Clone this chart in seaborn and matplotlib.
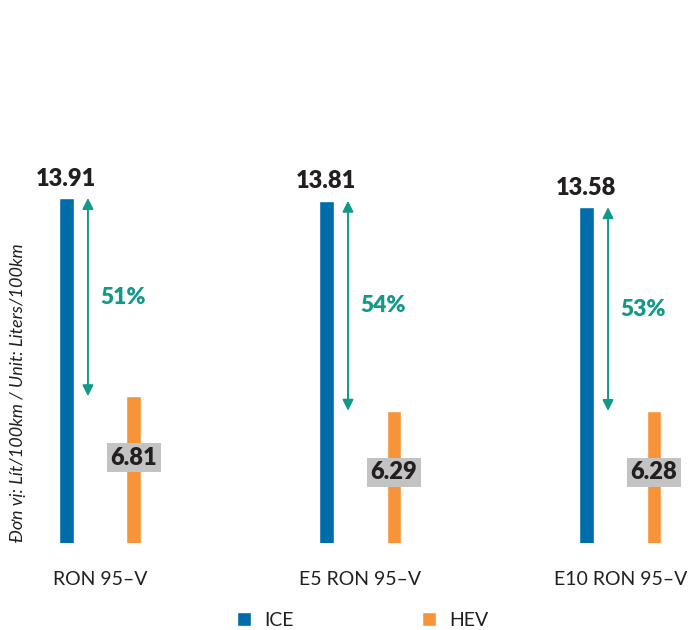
import pandas as pd
import matplotlib
matplotlib.use("Agg")
import matplotlib.pyplot as plt
import seaborn as sns
from matplotlib.patches import Patch

# --- DATA ---
FUELS = ["RON 95–V", "E5 RON 95–V", "E10 RON 95–V"]
ICE = [13.91, 13.81, 13.58]
HEV = [6.81, 6.29, 6.28]
SAVINGS = ["51%", "54%", "53%"]
Y_LABEL = "Đơn vị: Lít/100km / Unit: Liters/100km"

OUTPUT_FILE = "out.png"

color_ice = "#006dab"
color_hev = "#f7943a"
color_teal = "#119a89"
color_text = "#231f20"


def generate_graph():
    df = pd.DataFrame({
        "Fuel": FUELS * 2,
        "Type": ["ICE"] * 3 + ["HEV"] * 3,
        "Value": ICE + HEV,
    })

    sns.set_style("white")
    plt.rcParams["font.family"] = ["Lato", "DejaVu Sans"]

    fig = plt.figure(figsize=(6.93, 6.3), dpi=100)
    ax = fig.add_axes([0, 0.138, 1, 0.862])

    sns.barplot(data=df, x="Fuel", y="Value", hue="Type", order=FUELS,
                hue_order=["ICE", "HEV"], palette=[color_ice, color_hev],
                width=0.52, gap=0.78, ax=ax, legend=False, saturation=1)

    ax.set_xlim(-0.385, 2.28)
    ax.set_ylim(1.55, 21.0)
    sns.despine(ax=ax, left=True, bottom=True)
    ax.set_yticks([])
    ax.set_xlabel("")
    ax.set_ylabel("")
    ax.tick_params(axis="x", length=0, pad=20, labelsize=14, labelcolor=color_text)

    ice_bars = ax.containers[0]
    hev_bars = ax.containers[1]
    for i, (pi, ph) in enumerate(zip(ice_bars, hev_bars)):
        xi = pi.get_x() + pi.get_width() / 2
        xh = ph.get_x() + ph.get_width() / 2
        vi = pi.get_height()
        vh = ph.get_height()

        # ICE value on top
        ax.annotate(f"{ICE[i]:.2f}", xy=(xi, vi), xytext=(0, 6),
                    textcoords="offset points", ha="center", va="bottom",
                    fontsize=17, fontweight="heavy", color=color_text)

        # HEV value in a grey box
        ax.text(xh, vh - 2.2, f"{HEV[i]:.2f}", ha="center", va="center",
                fontsize=17, fontweight="heavy", color=color_text,
                bbox=dict(boxstyle="square,pad=0.15", facecolor="#c3c3c3",
                          edgecolor="none"))

        # saving arrow
        xa = xi + 0.32 * (xh - xi)
        ax.annotate("", xy=(xa, vh), xytext=(xa, vi),
                    arrowprops=dict(arrowstyle="<|-|>", color=color_teal,
                                    lw=1.4, mutation_scale=16,
                                    shrinkA=0, shrinkB=0))
        ax.text((xi + xh) / 2, (vi + vh) / 2, SAVINGS[i], ha="left",
                va="center", fontsize=16.5, fontweight="heavy", color=color_teal)

    fig.text(18 / 693, 1 - 393 / 630, Y_LABEL, rotation=90, ha="center",
             va="center", fontsize=13, style="italic", color=color_text)

    legend_elements = [
        Patch(facecolor=color_ice, label="ICE"),
        Patch(facecolor=color_hev, label="HEV"),
    ]
    leg = fig.legend(handles=legend_elements, loc="center",
                     bbox_to_anchor=(363 / 693, 1 - 620 / 630), ncol=2,
                     frameon=False, handlelength=0.7, handleheight=0.7,
                     handletextpad=0.7, columnspacing=6.6, fontsize=14)
    for t in leg.get_texts():
        t.set_color(color_text)

    fig.savefig(OUTPUT_FILE, dpi=100)


if __name__ == "__main__":
    generate_graph()
